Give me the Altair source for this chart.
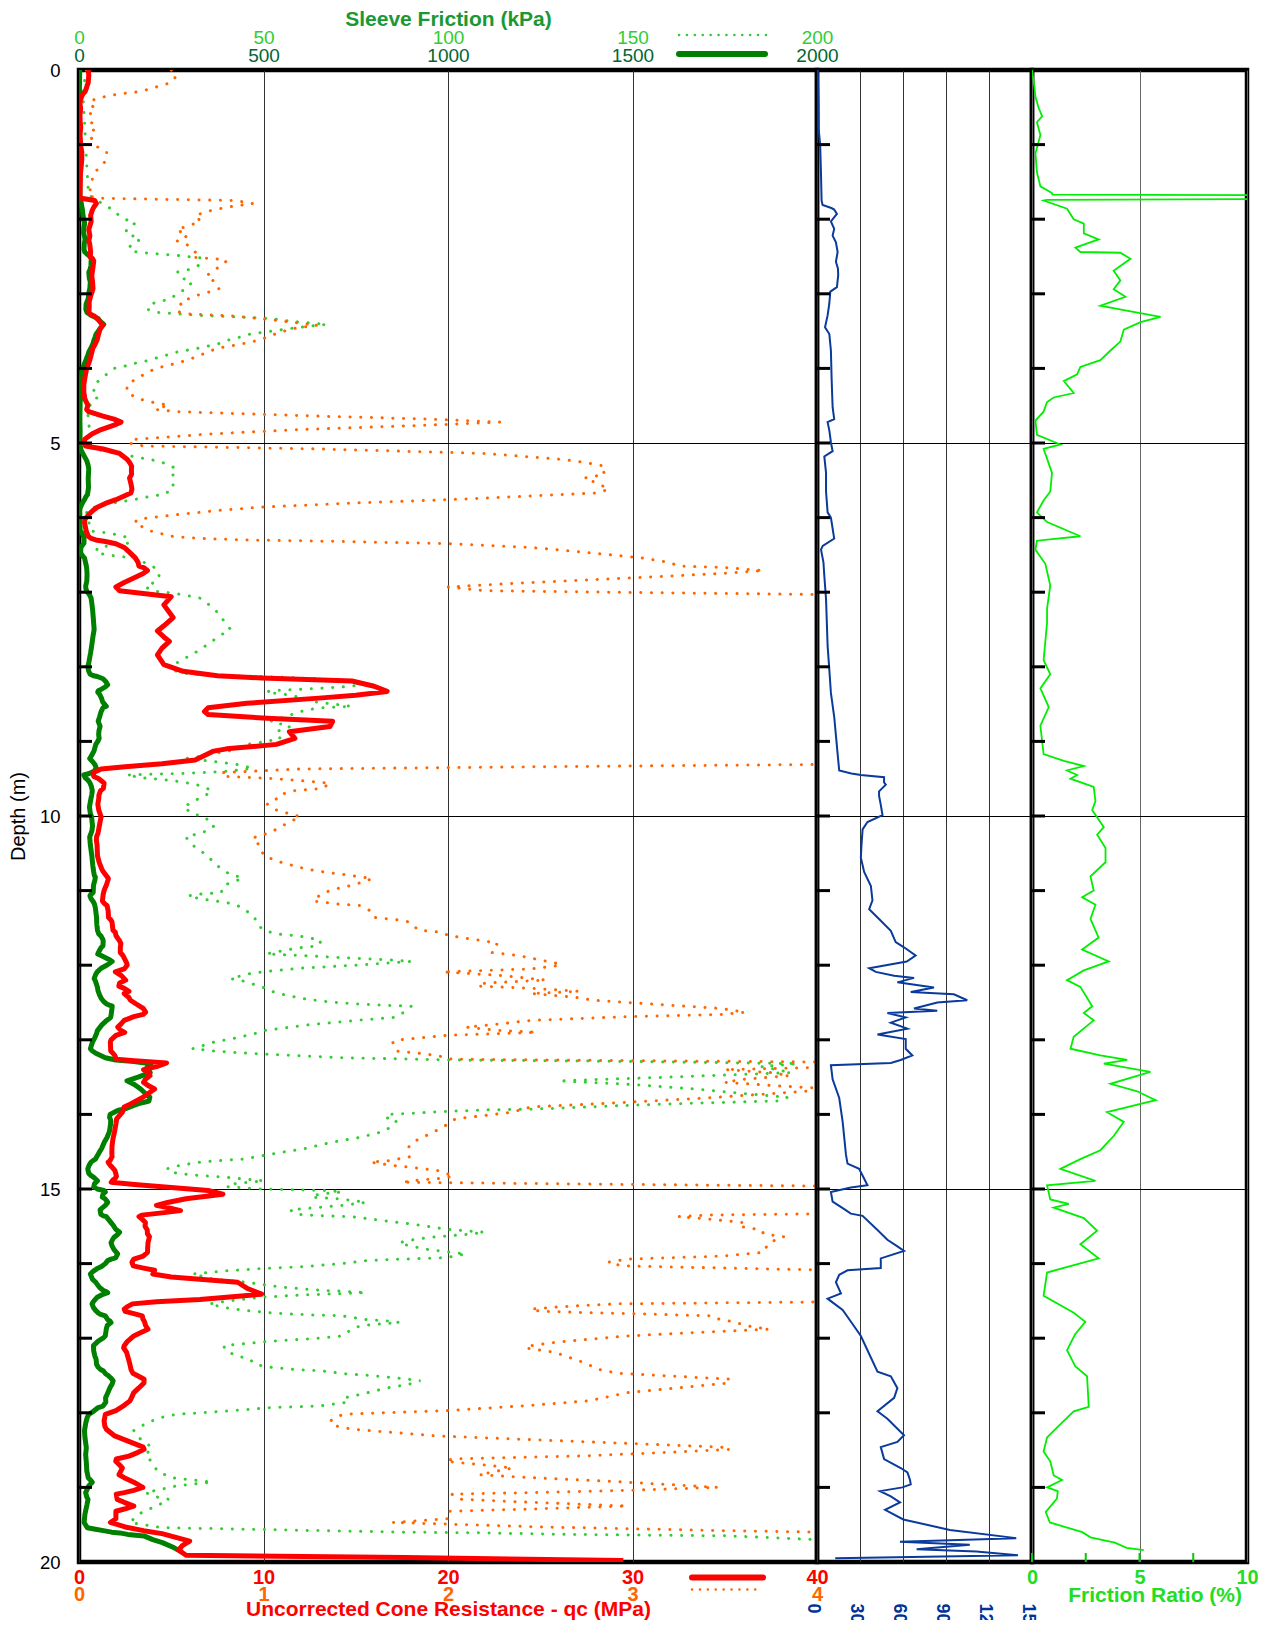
import altair as alt
import pandas as pd

qc_depth = [
    0.00, 0.07, 0.17, 0.21, 0.25, 0.29, 0.32, 0.35, 0.40, 0.45,
    0.52, 0.60, 0.69, 0.76, 0.87, 1.03, 1.10, 1.20, 1.29, 1.38,
    1.49, 1.61, 1.69, 1.72, 1.75, 1.79, 1.84, 1.88, 1.95, 2.03,
    2.09, 2.14, 2.22, 2.29, 2.33, 2.44, 2.51, 2.53, 2.56, 2.62,
    2.76, 2.83, 2.93, 2.98, 3.02, 3.11, 3.18, 3.24, 3.27, 3.30,
    3.35, 3.42, 3.47, 3.55, 3.62, 3.68, 3.73, 3.84, 3.89, 3.93,
    4.00, 4.07, 4.14, 4.22, 4.32, 4.40, 4.44, 4.47, 4.49, 4.52,
    4.55, 4.58, 4.64, 4.68, 4.72, 4.76, 4.82, 4.88, 4.95, 5.00,
    5.04, 5.08, 5.14, 5.22, 5.26, 5.31, 5.37, 5.42, 5.47, 5.55,
    5.62, 5.67, 5.71, 5.76, 5.81, 5.86, 5.90, 5.96, 6.02, 6.07,
    6.18, 6.25, 6.28, 6.30, 6.32, 6.35, 6.40, 6.47, 6.54, 6.60,
    6.65, 6.67, 6.71, 6.75, 6.81, 6.87, 6.93, 6.98, 7.02, 7.06,
    7.17, 7.34, 7.45, 7.52, 7.60, 7.66, 7.75, 7.84, 7.97, 8.06,
    8.12, 8.15, 8.19, 8.26, 8.33, 8.38, 8.42, 8.49, 8.55, 8.60,
    8.64, 8.69, 8.73, 8.80, 8.87, 8.96, 9.04, 9.10, 9.13, 9.25,
    9.30, 9.34, 9.37, 9.42, 9.47, 9.49, 9.51, 9.53, 9.56, 9.63,
    9.66, 9.72, 9.77, 9.84, 9.92, 9.97, 10.01, 10.08, 10.15, 10.23,
    10.27, 10.32, 10.39, 10.53, 10.60, 10.64, 10.67, 10.71, 10.74, 10.76,
    10.78, 10.80, 10.82, 10.84, 10.89, 10.93, 10.96, 11.00, 11.05, 11.14,
    11.16, 11.18, 11.20, 11.27, 11.36, 11.39, 11.42, 11.53, 11.56, 11.60,
    11.64, 11.67, 11.71, 11.76, 11.83, 11.87, 11.92, 11.97, 12.00, 12.05,
    12.09, 12.14, 12.20, 12.24, 12.28, 12.31, 12.35, 12.38, 12.43, 12.47,
    12.52, 12.58, 12.63, 12.66, 12.69, 12.74, 12.79, 12.83, 12.87, 12.90,
    12.94, 13.00, 13.03, 13.15, 13.18, 13.21, 13.26, 13.28, 13.31, 13.36,
    13.40, 13.44, 13.48, 13.53, 13.57, 13.62, 13.66, 13.73, 13.78, 13.82,
    13.86, 13.90, 13.97, 14.06, 14.13, 14.17, 14.24, 14.33, 14.42, 14.51,
    14.57, 14.62, 14.64, 14.66, 14.69, 14.71, 14.75, 14.79, 14.83, 14.86,
    14.88, 14.91, 14.94, 14.97, 15.02, 15.07, 15.10, 15.13, 15.18, 15.22,
    15.26, 15.29, 15.32, 15.35, 15.37, 15.40, 15.45, 15.50, 15.55, 15.60,
    15.64, 15.72, 15.80, 15.85, 15.90, 15.94, 15.98, 16.03, 16.06, 16.09,
    16.14, 16.18, 16.21, 16.25, 16.33, 16.41, 16.45, 16.48, 16.51, 16.54,
    16.58, 16.61, 16.64, 16.67, 16.70, 16.74, 16.78, 16.83, 16.88, 16.93,
    16.97, 17.05, 17.10, 17.13, 17.19, 17.26, 17.33, 17.42, 17.47, 17.51,
    17.55, 17.60, 17.67, 17.73, 17.80, 17.84, 17.90, 17.97, 18.02, 18.11,
    18.18, 18.22, 18.31, 18.36, 18.41, 18.46, 18.49, 18.53, 18.58, 18.62,
    18.65, 18.70, 18.74, 18.83, 18.87, 18.93, 19.00, 19.04, 19.07, 19.09,
    19.16, 19.20, 19.25, 19.29, 19.32, 19.42, 19.47, 19.53, 19.58, 19.62,
    19.68, 19.72, 19.78, 19.84, 19.91, 19.94, 19.98,
]
qc_mpa = [
    0.50, 0.53, 0.50, 0.44, 0.39, 0.33, 0.22, 0.15, 0.08, 0.055,
    0.09, 0.055, 0.06, 0.095, 0.055, 0.10, 0.15, 0.15, 0.12, 0.08,
    0.07, 0.06, 0.05, 0.12, 0.85, 0.94, 0.80, 0.72, 0.63, 0.66,
    0.59, 0.53, 0.59, 0.53, 0.58, 0.63, 0.61, 0.74, 0.80, 0.77,
    0.69, 0.73, 0.76, 0.70, 0.64, 0.55, 0.555, 0.535, 0.60, 0.85,
    1.05, 1.29, 1.15, 1.05, 0.98, 0.865, 0.75, 0.64, 0.585, 0.53,
    0.415, 0.36, 0.31, 0.26, 0.26, 0.315, 0.37, 0.43, 0.486, 0.45,
    0.415, 0.53, 1.30, 1.90, 2.28, 1.90, 1.20, 0.70, 0.31, 0.27,
    0.35, 1.30, 2.20, 2.62, 2.74, 2.85, 2.84, 2.85, 2.74, 2.82,
    2.87, 2.81, 2.45, 2.00, 1.43, 0.99, 0.77, 0.53, 0.32, 0.30,
    0.39, 0.50, 0.66, 0.91, 1.43, 2.00, 2.45, 2.76, 3.05, 3.20,
    3.25, 3.50, 3.71, 3.48, 2.97, 2.45, 2.00, 2.20, 3.60, 5.00,
    4.60, 5.10, 4.60, 4.25, 4.60, 4.90, 4.50, 4.25, 4.60, 5.65,
    7.50, 9.90, 14.80, 16.00, 16.70, 15.00, 13.00, 9.10, 7.00, 6.80,
    7.00, 10.20, 13.75, 13.60, 11.40, 11.70, 10.70, 8.00, 7.30, 6.30,
    4.50, 2.50, 1.20, 0.77, 0.80, 0.99, 1.12, 1.22, 1.36, 1.32,
    1.17, 1.08, 1.07, 1.02, 1.07, 1.14, 1.20, 1.14, 1.09, 1.03,
    0.96, 0.94, 0.98, 1.00, 1.07, 1.12, 1.17, 1.23, 1.30, 1.36,
    1.42, 1.48, 1.54, 1.59, 1.53, 1.48, 1.42, 1.36, 1.31, 1.27,
    1.34, 1.40, 1.52, 1.58, 1.60, 1.72, 1.79, 1.84, 1.97, 2.00,
    2.10, 2.19, 2.27, 2.24, 2.24, 2.38, 2.48, 2.58, 2.61, 2.45,
    1.97, 2.30, 2.53, 2.20, 2.16, 2.45, 2.71, 2.45, 2.69, 2.79,
    3.10, 3.48, 3.61, 3.48, 2.97, 2.45, 2.27, 2.10, 2.25, 2.48,
    2.00, 1.74, 1.70, 1.72, 1.84, 1.94, 2.02, 3.00, 4.75, 4.20,
    3.50, 3.75, 3.85, 3.60, 3.50, 3.80, 4.10, 3.70, 3.40, 3.10,
    2.80, 2.45, 2.35, 2.04, 2.00, 1.97, 1.92, 1.84, 1.79, 1.78,
    1.79, 1.68, 1.58, 1.63, 1.72, 1.80, 1.94, 1.99, 2.03, 1.95,
    1.84, 1.75, 3.00, 4.50, 7.00, 7.80, 6.80, 5.80, 4.80, 4.20,
    5.00, 5.50, 4.50, 3.40, 3.25, 3.40, 3.60, 3.58, 3.70, 3.71,
    3.82, 3.74, 3.72, 3.71, 3.48, 2.97, 2.87, 2.94, 3.50, 4.10,
    4.00, 5.00, 6.55, 8.60, 9.10, 9.90, 8.00, 6.55, 4.20, 2.90,
    2.60, 2.45, 2.50, 2.97, 3.43, 3.46, 3.55, 3.61, 3.74, 3.30,
    2.97, 2.60, 2.45, 2.42, 2.58, 2.66, 2.74, 2.82, 2.92, 3.23,
    3.53, 3.52, 3.23, 2.97, 2.84, 2.76, 2.45, 2.00, 1.43, 1.36,
    1.40, 1.48, 1.94, 2.45, 2.97, 3.48, 3.53, 3.20, 2.71, 2.02,
    1.99, 2.20, 2.35, 2.17, 2.45, 2.97, 3.46, 2.97, 2.45, 2.02,
    2.07, 2.45, 2.97, 2.45, 2.00, 2.00, 1.70, 2.50, 3.50, 4.50,
    5.40, 6.00, 5.60, 5.40, 5.80, 17.70, 29.50,
]

fs_depth = [
    0.00, 0.30, 0.70, 1.20, 1.60, 1.68, 1.75, 1.82, 1.88, 1.95,
    2.01, 2.05, 2.13, 2.19, 2.22, 2.27, 2.33, 2.40, 2.44, 2.46,
    2.49, 2.52, 2.62, 2.67, 2.71, 2.79, 2.84, 2.93, 2.98, 3.07,
    3.10, 3.14, 3.21, 3.25, 3.27, 3.29, 3.31, 3.33, 3.37, 3.41,
    3.44, 3.48, 3.54, 3.58, 3.62, 3.67, 3.73, 3.78, 3.82, 3.86,
    3.90, 3.93, 3.97, 4.00, 4.09, 4.18, 4.28, 4.38, 4.44, 4.67,
    4.84, 5.02, 5.10, 5.17, 5.24, 5.29, 5.35, 5.47, 5.60, 5.69,
    5.71, 5.76, 5.80, 5.87, 5.91, 6.18, 6.20, 6.23, 6.27, 6.34,
    6.40, 6.47, 6.50, 6.52, 6.54, 6.58, 6.65, 6.70, 6.76, 6.85,
    6.92, 6.96, 6.99, 7.01, 7.04, 7.08, 7.17, 7.26, 7.34, 7.42,
    7.50, 7.57, 7.66, 7.75, 7.81, 7.88, 7.95, 8.00, 8.06, 8.10,
    8.12, 8.13, 8.16, 8.20, 8.24, 8.27, 8.30, 8.32, 8.34, 8.37,
    8.42, 8.47, 8.53, 8.55, 8.60, 8.67, 8.73, 8.80, 8.86, 8.91,
    8.96, 9.00, 9.04, 9.13, 9.20, 9.23, 9.27, 9.31, 9.36, 9.40,
    9.43, 9.45, 9.49, 9.51, 9.54, 9.57, 9.60, 9.66, 9.71, 9.79,
    9.88, 9.97, 10.01, 10.13, 10.19, 10.24, 10.28, 10.39, 10.53, 10.66,
    10.75, 10.80, 10.82, 10.86, 10.93, 11.02, 11.04, 11.05, 11.07, 11.11,
    11.15, 11.18, 11.23, 11.36, 11.45, 11.53, 11.58, 11.61, 11.64, 11.67,
    11.74, 11.77, 11.80, 11.83, 11.85, 11.87, 11.90, 11.93, 11.95, 12.00,
    12.04, 12.09, 12.12, 12.18, 12.21, 12.25, 12.30, 12.34, 12.40, 12.45,
    12.49, 12.52, 12.54, 12.55, 12.61, 12.67, 12.70, 12.74, 12.80, 12.88,
    12.91, 12.97, 13.03, 13.12, 13.15, 13.18, 13.21, 13.24, 13.27, 13.29,
    13.32, 13.36, 13.44, 13.50, 13.55, 13.60, 13.66, 13.72, 13.77, 13.82,
    13.84, 13.86, 13.88, 13.93, 13.94, 13.96, 14.00, 14.04, 14.08, 14.13,
    14.22, 14.24, 14.31, 14.37, 14.46, 14.50, 14.55, 14.60, 14.62, 14.64,
    14.68, 14.73, 14.79, 14.82, 14.84, 14.87, 14.89, 14.93, 14.97, 15.00,
    15.01, 15.02, 15.04, 15.07, 15.11, 15.13, 15.16, 15.18, 15.22, 15.25,
    15.28, 15.34, 15.36, 15.37, 15.41, 15.45, 15.49, 15.54, 15.56, 15.58,
    15.61, 15.63, 15.65, 15.68, 15.72, 15.76, 15.81, 15.84, 15.87, 15.92,
    15.93, 15.94, 15.96, 16.00, 16.04, 16.07, 16.10, 16.14, 16.21, 16.25,
    16.28, 16.32, 16.34, 16.36, 16.37, 16.39, 16.42, 16.45, 16.50, 16.54,
    16.59, 16.63, 16.66, 16.68, 16.69, 16.70, 16.75, 16.77, 16.79, 16.81,
    16.83, 16.88, 16.97, 17.00, 17.02, 17.04, 17.07, 17.10, 17.17, 17.24,
    17.28, 17.35, 17.39, 17.42, 17.44, 17.48, 17.50, 17.53, 17.55, 17.57,
    17.62, 17.66, 17.75, 17.80, 17.86, 17.91, 17.93, 17.98, 18.00, 18.02,
    18.06, 18.13, 18.24, 18.33, 18.47, 18.56, 18.67, 18.78, 18.87, 18.89,
    18.91, 18.93, 18.96, 18.98, 19.03, 19.07, 19.13, 19.16, 19.23, 19.30,
    19.36, 19.47, 19.54, 19.56, 19.58, 19.60, 19.61, 19.63, 19.64, 19.65,
    19.70, 19.74, 19.81, 19.87,
]
fs_kpa = [
    2.0, 1.0, 1.5, 2.0, 2.5, 2.7, 5.0, 7.2, 9.5, 10.8,
    13.0, 15.3, 13.0, 12.6, 14.4, 16.7, 14.2, 13.5, 15.6, 20.0,
    27.5, 33.3, 32.4, 30.2, 26.6, 27.9, 30.6, 29.3, 27.0, 24.8,
    22.0, 19.2, 18.6, 21.6, 27.5, 33.3, 42.6, 51.6, 57.7, 67.1,
    61.4, 55.0, 46.4, 43.7, 40.5, 37.8, 32.2, 26.6, 23.9, 21.0,
    18.2, 15.3, 12.4, 9.5, 7.2, 5.0, 3.8, 5.4, 3.2, 2.3,
    3.0, 2.5, 6.0, 13.5, 21.2, 24.4, 26.4, 25.0, 25.7, 23.1,
    19.9, 14.8, 9.6, 3.2, 2.0, 3.2, 7.0, 10.3, 13.5, 13.5,
    5.1, 4.5, 7.7, 10.9, 14.8, 16.7, 19.9, 21.2, 21.8, 21.2,
    18.0, 19.0, 21.2, 25.0, 28.9, 32.8, 35.3, 37.3, 38.6, 39.8,
    41.1, 38.6, 36.0, 33.4, 31.5, 28.9, 26.4, 23.8, 26.4, 30.2,
    39.2, 49.5, 65.0, 73.0, 77.8, 71.3, 61.0, 52.0, 50.8, 55.9,
    61.0, 64.0, 73.9, 64.9, 60.0, 55.9, 52.0, 57.2, 54.0, 53.3,
    54.6, 50.8, 45.6, 40.5, 32.8, 28.9, 36.6, 43.0, 47.0, 40.5,
    28.0, 12.9, 17.4, 22.5, 27.6, 30.8, 33.4, 36.0, 34.7, 31.5,
    28.3, 30.8, 34.0, 36.6, 35.3, 32.1, 28.9, 30.8, 34.7, 37.3,
    39.8, 41.8, 44.3, 43.0, 39.2, 38.6, 35.3, 32.1, 29.6, 32.8,
    38.6, 41.8, 44.3, 47.6, 48.2, 50.1, 53.3, 59.8, 63.0, 65.6,
    64.9, 59.1, 55.9, 52.7, 50.8, 59.8, 72.0, 84.2, 90.0, 75.0,
    60.0, 49.5, 45.6, 41.1, 44.3, 46.9, 50.1, 51.4, 55.9, 61.0,
    67.5, 75.2, 84.2, 90.0, 88.7, 86.8, 85.5, 75.0, 62.0, 49.5,
    48.2, 43.0, 36.6, 30.8, 36.6, 45.6, 58.5, 71.3, 99.6, 148.5,
    194.7, 185.0, 193.0, 160.0, 130.0, 150.0, 167.0, 180.0, 192.0, 189.6,
    174.0, 160.0, 148.5, 122.8, 110.0, 99.6, 84.2, 82.9, 86.1, 85.5,
    82.9, 81.6, 76.0, 68.8, 61.0, 55.9, 50.1, 44.3, 37.9, 32.8,
    27.6, 23.8, 26.4, 32.8, 39.2, 45.6, 50.1, 42.0, 40.0, 49.5,
    58.5, 67.5, 71.3, 64.9, 63.0, 70.0, 75.2, 77.8, 71.3, 64.0,
    57.2, 59.1, 66.2, 73.9, 80.3, 86.8, 93.2, 99.6, 104.8, 109.9,
    104.8, 99.6, 94.5, 90.6, 86.8, 89.3, 94.5, 99.6, 104.8, 99.6,
    94.5, 86.8, 77.8, 71.3, 61.0, 48.2, 39.2, 30.8, 36.6, 45.6,
    49.5, 55.9, 61.0, 66.2, 71.3, 77.8, 61.0, 49.5, 40.5, 35.3,
    39.2, 45.6, 52.0, 58.5, 64.9, 71.3, 77.8, 84.2, 86.8, 81.6,
    76.5, 73.9, 71.3, 64.9, 58.5, 52.0, 45.6, 39.2, 39.8, 43.0,
    46.3, 47.6, 52.0, 58.5, 66.2, 72.6, 79.0, 85.5, 89.3, 92.5,
    89.3, 84.2, 76.5, 72.0, 72.6, 64.9, 52.0, 39.2, 32.8, 26.4,
    22.5, 18.6, 14.8, 16.1, 19.9, 18.0, 19.9, 21.2, 25.0, 28.9,
    32.8, 36.0, 30.0, 26.4, 21.8, 18.0, 21.2, 24.4, 21.8, 18.6,
    16.1, 13.8, 22.6, 44.5, 66.0, 88.3, 110.0, 132.0, 154.0, 176.0,
    200.0, 226.0, 258.0, 280.0,
]

u2_depth = [
    0.00, 0.40, 0.80, 1.00, 1.40, 1.75, 1.81, 1.85, 1.87, 1.93,
    2.03, 2.13, 2.22, 2.31, 2.44, 2.57, 2.66, 2.75, 2.91, 2.97,
    3.13, 3.29, 3.45, 3.54, 3.76, 4.14, 4.52, 4.68, 4.72, 4.83,
    4.99, 5.11, 5.18, 5.40, 5.65, 5.93, 6.00, 6.28, 6.38, 6.43,
    6.60, 6.78, 7.09, 7.72, 8.04, 8.35, 8.67, 8.92, 9.17, 9.39,
    9.43, 9.45, 9.48, 9.55, 9.58, 9.67, 9.73, 9.85, 9.99, 10.08,
    10.18, 10.40, 10.56, 10.75, 10.94, 11.13, 11.25, 11.38, 11.54, 11.69,
    11.76, 11.87, 11.95, 12.04, 12.09, 12.14, 12.17, 12.23, 12.30, 12.36,
    12.39, 12.47, 12.50, 12.58, 12.61, 12.64, 12.70, 12.77, 12.85, 12.93,
    12.99, 13.12, 13.21, 13.27, 13.31, 13.34, 13.53, 13.78, 14.10, 14.54,
    14.66, 14.73, 14.95, 14.98, 15.04, 15.17, 15.27, 15.33, 15.36, 15.55,
    15.68, 15.77, 15.83, 15.93, 16.06, 16.09, 16.15, 16.25, 16.40, 16.47,
    16.62, 16.81, 16.97, 17.45, 17.51, 17.67, 17.80, 17.98, 18.08, 18.30,
    18.39, 18.46, 18.62, 18.74, 18.80, 18.90, 18.96, 19.00, 19.05, 19.12,
    19.20, 19.30, 19.43, 19.57, 19.68, 19.73, 19.77, 19.83, 19.86, 19.91,
    19.95,
]
u2_kpa = [
    5, 10, 12, 22, 28, 32, 39, 100, 120, 139,
    97, 120, 109, 132, 144, 132, 146, 148, 139, 93,
    86, 74, 56, 86, 97, 102, 109, 120, 74, 86,
    97, 109, 51, 63, 63, 74, 97, 120, 40, 28,
    45, 51, 63, 74, 86, 97, 120, 132, 144, 155,
    240, 306, 468, 468, 480, 433, 433, 445, 457, 352,
    318, 310, 306, 329, 376, 387, 364, 433, 515, 549,
    607, 688, 626, 364, 410, 538, 677, 561, 816, 654,
    955, 1048, 839, 677, 839, 491, 619, 515, 631, 422,
    619, 619, 665, 584, 515, 97, 109, 155, 179, 202,
    213, 294, 352, 236, 97, 109, 190, 236, 318, 422,
    491, 561, 607, 445, 445, 213, 155, 132, 167, 74,
    179, 248, 306, 422, 515, 561, 538, 422, 491, 607,
    561, 445, 468, 584, 631, 649, 654, 596, 440, 515,
    579, 475, 602, 927, 1390, 579, 1066, 695, 1112, 1402,
    127,
]

rf_depth = [
    0.00, 0.20, 0.36, 0.50, 0.62, 0.70, 0.87, 1.12, 1.37, 1.56,
    1.65, 1.67, 1.68, 1.73, 1.74, 1.75, 1.86, 2.00, 2.06, 2.19,
    2.27, 2.38, 2.44, 2.45, 2.53, 2.69, 2.82, 2.94, 3.04, 3.16,
    3.22, 3.31, 3.38, 3.48, 3.64, 3.76, 3.89, 3.98, 4.08, 4.17,
    4.33, 4.39, 4.45, 4.58, 4.70, 4.89, 5.02, 5.08, 5.21, 5.40,
    5.65, 5.77, 5.93, 6.06, 6.25, 6.31, 6.43, 6.62, 6.91, 7.22,
    7.41, 7.91, 8.10, 8.29, 8.54, 8.79, 9.17, 9.26, 9.33, 9.39,
    9.45, 9.50, 9.61, 9.80, 9.92, 10.15, 10.25, 10.43, 10.62, 10.81,
    11.00, 11.09, 11.19, 11.38, 11.63, 11.79, 11.95, 12.07, 12.20, 12.29,
    12.55, 12.64, 12.74, 12.96, 13.12, 13.21, 13.27, 13.32, 13.43, 13.59,
    13.69, 13.81, 13.97, 14.10, 14.29, 14.48, 14.60, 14.73, 14.89, 14.95,
    15.14, 15.20, 15.25, 15.39, 15.56, 15.74, 15.93, 16.12, 16.43, 16.66,
    16.78, 16.95, 17.16, 17.38, 17.51, 17.92, 17.98, 18.20, 18.33, 18.52,
    18.65, 18.84, 18.90, 19.00, 19.05, 19.15, 19.33, 19.47, 19.60, 19.67,
    19.74, 19.81, 19.84,
]
rf_pct = [
    0.00, 0.10, 0.16, 0.30, 0.47, 0.23, 0.39, 0.16, 0.23, 0.39,
    0.93, 0.95, 12.0, 12.0, 0.70, 0.54, 1.63, 1.94, 2.41, 2.41,
    3.10, 2.02, 2.25, 4.11, 4.58, 3.80, 4.11, 3.80, 4.35, 3.18,
    4.27, 5.98, 5.05, 4.27, 4.11, 3.65, 3.18, 2.25, 2.10, 1.48,
    1.94, 1.01, 0.70, 0.54, 0.16, 0.23, 1.32, 0.54, 0.70, 0.93,
    0.85, 0.54, 0.23, 0.70, 2.25, 0.23, 0.16, 0.62, 0.85, 0.70,
    0.70, 0.54, 0.85, 0.39, 0.78, 0.39, 0.54, 1.48, 2.41, 1.63,
    2.10, 1.79, 2.87, 2.95, 2.80, 3.34, 3.03, 3.42, 3.42, 2.72,
    2.87, 2.33, 2.95, 2.72, 3.10, 2.33, 3.57, 2.41, 1.63, 2.25,
    2.80, 2.41, 2.87, 1.94, 1.79, 3.18, 4.43, 3.34, 5.51, 3.65,
    4.89, 5.75, 3.49, 4.27, 3.80, 3.18, 2.25, 1.32, 2.95, 0.70,
    0.85, 1.71, 1.01, 2.41, 3.03, 2.25, 3.10, 0.70, 0.54, 1.94,
    2.48, 2.00, 1.63, 2.02, 2.56, 2.64, 1.94, 1.16, 0.70, 0.54,
    0.85, 1.01, 1.40, 0.70, 1.20, 1.16, 0.64, 0.83, 2.34, 2.72,
    3.85, 4.40, 5.20,
]

depth_ticks = list(range(1, 20))
depth_labels = [0, 5, 10, 15, 20]
qc_ticks = [0, 10, 20, 30, 40]
qc_zoom_ticks = [0, 1, 2, 3, 4]
fs_ticks = [0, 500, 1000, 1500, 2000]
fs_zoom_ticks = [0, 50, 100, 150, 200]
u2_ticks = [0, 300, 600, 900, 1200, 1500]
rf_ticks = [0, 5, 10]
rf_minor_ticks = [0, 2.5, 5, 7.5]

# ---------------- frames ----------------
qc_df = pd.DataFrame({"depth": qc_depth, "qc": qc_mpa})
qc_df["i"] = range(len(qc_df))
fs_df = pd.DataFrame({"depth": fs_depth, "fs": fs_kpa})
fs_df["i"] = range(len(fs_df))
u2_df = pd.DataFrame({"depth": u2_depth, "u2": u2_kpa})
u2_df["i"] = range(len(u2_df))
rf_df = pd.DataFrame({"depth": rf_depth, "rf": rf_pct})
rf_df["i"] = range(len(rf_df))
tick_df = pd.DataFrame({"depth": depth_ticks})
rf_minor_df = pd.DataFrame({"rf": rf_minor_ticks})
one = pd.DataFrame({"k": [0]})

# ---------------- style / layout ----------------
FONT = "Liberation Sans, Arial, Helvetica, sans-serif"
H = 1492
W1, W2, W3 = 738, 215, 215
PAD_L, PAD_T = 71, 62
# with autosize "none" the root view keeps width 0, so the right padding holds the panels
PAD_R = 1250 - PAD_L
PAD_B = 1612 - PAD_T - H
RED = "#ff0000"
ORANGE = "#ff6600"
DKGREEN = "#008000"
LTGREEN = "#33cc33"
BLUE = "#0a3a9c"
RFGREEN = "#00ee00"
DOT = [0.1, 10.6]
KEYDOT = [0.1, 7.8]

ysc = alt.Scale(domain=[0, 20], reverse=True, nice=False, zero=False)

yax_main = alt.Axis(values=depth_labels, grid=True, gridColor="black", gridWidth=1,
                    gridOpacity=1, ticks=False, tickSize=0, domain=False,
                    labelFont=FONT, labelFontSize=18.5, labelColor="black",
                    labelPadding=19, labelBaseline="middle", labelFlush=False,
                    labelOverlap=False, title="Depth (m)", titleFont=FONT,
                    titleFontSize=20, titleFontWeight="normal", titleColor="black",
                    titleX=-60.5, titleBaseline="middle")
yax_plain = alt.Axis(values=depth_labels, grid=True, gridColor="black", gridWidth=1,
                     gridOpacity=1, ticks=False, tickSize=0, domain=False,
                     labels=False, title=None)
Y1 = alt.Y("depth:Q", scale=ysc, axis=yax_main)
Y2 = alt.Y("depth:Q", scale=ysc, axis=yax_plain)

ax_qc = alt.Axis(orient="bottom", values=qc_ticks, format="d", grid=True,
                 gridColor="#333333", gridWidth=1, gridOpacity=1, ticks=False,
                 tickSize=0, domain=False, labelFont=FONT, labelFontSize=20,
                 labelFontWeight="bold", labelColor=RED, labelPadding=15.5,
                 labelBaseline="middle", labelFlush=False, labelOverlap=False,
                 title=None)
ax_qc_zoom = alt.Axis(orient="bottom", offset=17, values=qc_zoom_ticks, format="d",
                      grid=False, ticks=False, tickSize=0, domain=False,
                      labelFont=FONT, labelFontSize=20, labelFontWeight="bold",
                      labelColor=ORANGE, labelPadding=15.5, labelBaseline="middle",
                      labelFlush=False, labelOverlap=False,
                      title="Uncorrected Cone Resistance - qc (MPa)", titleFont=FONT,
                      titleFontSize=21, titleFontWeight="bold", titleColor=RED,
                      titleY=30.5, titleBaseline="middle")
ax_fs = alt.Axis(orient="top", values=fs_ticks, format="d", grid=False, ticks=False,
                 tickSize=0, domain=False, labelFont=FONT, labelFontSize=19,
                 labelColor="#006633", labelPadding=15, labelBaseline="middle",
                 labelFlush=False, labelOverlap=False, title=None)
ax_fs_zoom = alt.Axis(orient="top", offset=17.7, values=fs_zoom_ticks, format="d",
                      grid=False, ticks=False, tickSize=0, domain=False,
                      labelFont=FONT, labelFontSize=19, labelColor=LTGREEN,
                      labelPadding=15, labelBaseline="middle", labelFlush=False,
                      labelOverlap=False, title="Sleeve Friction (kPa)",
                      titleFont=FONT, titleFontSize=21, titleFontWeight="bold",
                      titleColor="#1a9933", titleY=-33, titleBaseline="middle")
ax_u2 = alt.Axis(orient="bottom", values=u2_ticks, format="d", grid=True,
                 gridColor="#333333", gridWidth=1, gridOpacity=1, ticks=False,
                 tickSize=0, domain=False, labelFont=FONT, labelFontSize=18,
                 labelFontWeight="bold", labelColor="#003399", labelAngle=90,
                 labelAlign="left", labelBaseline="middle", labelPadding=41,
                 labelOffset=-4.5, labelFlush=False, labelOverlap=False, title=None)
ax_rf = alt.Axis(orient="bottom", values=rf_ticks, format="d", grid=True,
                 gridColor="#666666", gridWidth=1, gridOpacity=1, ticks=False,
                 tickSize=0, domain=False, labelFont=FONT, labelFontSize=20,
                 labelFontWeight="bold", labelColor="#22dd22", labelPadding=15.5,
                 labelBaseline="middle", labelFlush=False, labelOverlap=False,
                 title="Friction Ratio (%)", titleFont=FONT, titleFontSize=21,
                 titleFontWeight="bold", titleColor="#22dd22", titleX=122.6,
                 titleY=33, titleBaseline="middle")

X_qc = alt.X("qc:Q", scale=alt.Scale(domain=[0, 40], nice=False, zero=False), axis=ax_qc)
X_qcz = alt.X("qc:Q", scale=alt.Scale(domain=[0, 4], nice=False, zero=False), axis=ax_qc_zoom)
X_fs = alt.X("fs:Q", scale=alt.Scale(domain=[0, 2000], nice=False, zero=False), axis=ax_fs)
X_fsz = alt.X("fs:Q", scale=alt.Scale(domain=[0, 200], nice=False, zero=False), axis=ax_fs_zoom)
X_u2 = alt.X("u2:Q", scale=alt.Scale(domain=[0, 1500], nice=False, zero=False), axis=ax_u2)
X_rf = alt.X("rf:Q", scale=alt.Scale(domain=[0, 10], nice=False, zero=False), axis=ax_rf)

# ---------------- panel 1: qc and fs ----------------
fs_dotted = alt.Chart(fs_df).mark_line(
    clip=True, color=LTGREEN, strokeWidth=3, strokeDash=DOT, strokeCap="round"
).encode(x=X_fsz, y=Y1, order="i:Q")
qc_dotted = alt.Chart(qc_df).mark_line(
    clip=True, color=ORANGE, strokeWidth=3, strokeDash=DOT, strokeCap="round"
).encode(x=X_qcz, y=Y1, order="i:Q")
fs_thick = alt.Chart(fs_df).mark_line(
    clip=True, color=DKGREEN, strokeWidth=5, strokeJoin="round"
).encode(x=X_fs, y=Y1, order="i:Q")
qc_thick = alt.Chart(qc_df).mark_line(
    clip=True, color=RED, strokeWidth=5, strokeJoin="round"
).encode(x=X_qc, y=Y1, order="i:Q")
ticks1 = alt.Chart(tick_df).mark_rule(color="black", strokeWidth=3).encode(
    y=Y1, x=alt.value(0), x2=alt.value(13))

key_fs_dot = alt.Chart(one).mark_rule(color=LTGREEN, strokeWidth=2.5, strokeDash=KEYDOT,
                                      strokeCap="round").encode(
    x=alt.value(600), x2=alt.value(687), y=alt.value(-35))
key_fs = alt.Chart(one).mark_rule(color=DKGREEN, strokeWidth=6, strokeCap="round").encode(
    x=alt.value(600), x2=alt.value(686), y=alt.value(-16))
key_qc = alt.Chart(one).mark_rule(color=RED, strokeWidth=6, strokeCap="round").encode(
    x=alt.value(613), x2=alt.value(684), y=alt.value(H + 15.5))
key_qc_dot = alt.Chart(one).mark_rule(color=ORANGE, strokeWidth=2.5, strokeDash=KEYDOT,
                                      strokeCap="round").encode(
    x=alt.value(613), x2=alt.value(684), y=alt.value(H + 27.5))

panel1 = alt.layer(
    fs_dotted, qc_dotted, fs_thick, qc_thick, ticks1,
    key_fs_dot, key_fs, key_qc, key_qc_dot
).resolve_scale(x="independent").properties(width=W1, height=H)

# ---------------- panel 2: pore pressure ----------------
u2_line = alt.Chart(u2_df).mark_line(clip=True, color=BLUE, strokeWidth=2).encode(
    x=X_u2, y=Y2, order="i:Q")
ticks2 = alt.Chart(tick_df).mark_rule(color="black", strokeWidth=3).encode(
    y=Y2, x=alt.value(0), x2=alt.value(13))
panel2 = alt.layer(u2_line, ticks2).properties(width=W2, height=H)

# ---------------- panel 3: friction ratio ----------------
rf_line = alt.Chart(rf_df).mark_line(clip=True, color=RFGREEN, strokeWidth=1.8).encode(
    x=X_rf, y=Y2, order="i:Q")
ticks3 = alt.Chart(tick_df).mark_rule(color="black", strokeWidth=3).encode(
    y=Y2, x=alt.value(0), x2=alt.value(13))
rf_minor = alt.Chart(rf_minor_df).mark_rule(color="#00cc00", strokeWidth=2).encode(
    x=X_rf, y=alt.value(H - 9), y2=alt.value(H))
panel3 = alt.layer(rf_line, ticks3, rf_minor).properties(width=W3, height=H)

chart = alt.hconcat(panel1, panel2, panel3, spacing=0, bounds="flush").properties(
    autosize=alt.AutoSizeParams(type="none"),
    padding={"left": PAD_L, "top": PAD_T, "right": PAD_R, "bottom": PAD_B},
).configure_view(stroke="black", strokeWidth=4.5)

chart.save("out.html", embed_options={"renderer": "svg", "actions": False})
